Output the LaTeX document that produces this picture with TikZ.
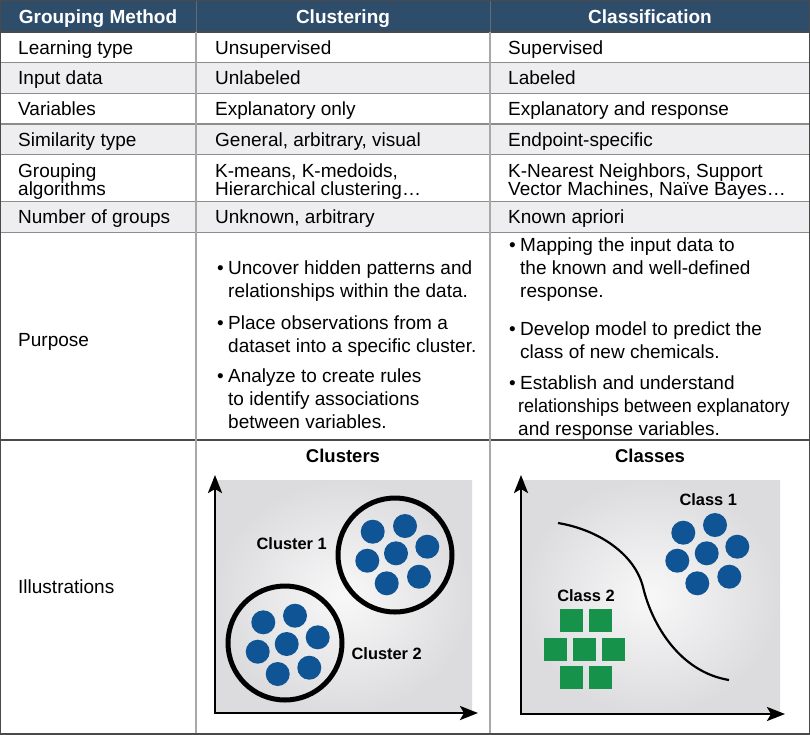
\documentclass[tikz,border=0pt]{standalone}
\usepackage{fontspec}
\setmainfont{Liberation Sans}
\usetikzlibrary{arrows.meta}
\definecolor{hdr}{HTML}{2D4D6B}
\definecolor{rowgray}{HTML}{EEEEF0}
\definecolor{dotblue}{HTML}{0F5495}
\definecolor{sqgreen}{HTML}{16924A}
\definecolor{gridline}{HTML}{8C8C8C}
\definecolor{vline}{HTML}{A8A8A8}
\definecolor{bord}{HTML}{4A4A4A}
\definecolor{bgIn}{HTML}{F8F8F9}
\definecolor{bgOut}{HTML}{DCDCDE}
\begin{document}
\begin{tikzpicture}[x=1pt,y=-1pt,
 txt/.style={anchor=base west, inner sep=0pt, font=\fontsize{19}{23}\selectfont, text=black},
 hd/.style={anchor=base, inner sep=0pt, font=\fontsize{19}{23}\selectfont\bfseries, text=white},
 lbl/.style={inner sep=0pt, font=\fontsize{16.4}{18}\selectfont\bfseries},
 ttl/.style={inner sep=0pt, font=\fontsize{18.5}{20}\selectfont\bfseries},
 dot/.style={circle, fill=dotblue, minimum size=24pt, inner sep=0pt},
 sq/.style={rectangle, fill=sqgreen, minimum size=23pt, inner sep=0pt},
 axis/.style={line width=2.6pt, line join=miter, {Stealth[length=18pt,width=14pt,inset=4pt]}-{Stealth[length=18pt,width=14pt,inset=4pt]}},
 ring/.style={circle, line width=5pt, draw=black, minimum size=114pt, inner sep=0pt},
 bg/.style={inner color=bgIn, outer color=bgOut},
]
\useasboundingbox (0,0) rectangle (810,734);
\fill[white] (0,0) rectangle (810,734);
% header
\fill[hdr] (0,0) rectangle (810,32);
% shaded rows
\fill[rowgray] (0,62.7) rectangle (810,93.4);
\fill[rowgray] (0,124.1) rectangle (810,154.8);
\fill[rowgray] (0,201.8) rectangle (810,232.5);
% grid lines
\foreach \yy in {62.7,93.4,124.1,154.8,201.8,232.5} \draw[gridline, line width=1.3pt] (0,\yy) -- (810,\yy);
\draw[bord, line width=2pt] (0,440) -- (810,440);
\draw[bord, line width=1.6pt] (0,32) -- (810,32);
\draw[vline, line width=1.2pt] (196,32) -- (196,734);
\draw[vline, line width=1.2pt] (490,32) -- (490,734);
\draw[gray!60!hdr, line width=1pt] (196,0) -- (196,32);
\draw[gray!60!hdr, line width=1pt] (490,0) -- (490,32);
\draw[bord, line width=2.4pt] (0,0) rectangle (810,734);

% header text
\node[hd] (h1) at (98,23) {Grouping Method};
\node[hd] (h2) at (343,23) {Clustering};
\node[hd] (h3) at (650,23) {Classification};

% rows
\node[txt] (a1) at (18,54.3) {Learning type};
\node[txt] (a2) at (215,54.3) {Unsupervised};
\node[txt] (a3) at (508,54.3) {Supervised};
\node[txt] (b1) at (18,84.8) {Input data};
\node[txt] (b2) at (215,84.8) {Unlabeled};
\node[txt] (b3) at (508,84.8) {Labeled};
\node[txt] (c1) at (18,115.8) {Variables};
\node[txt] (c2) at (215,115.8) {Explanatory only};
\node[txt] (c3) at (508,115.8) {Explanatory and response};
\node[txt] (d1) at (18,146.8) {Similarity type};
\node[txt] (d2) at (215,146.8) {General, arbitrary, visual};
\node[txt] (d3) at (508,146.8) {Endpoint-specific};
\node[txt] (e1) at (18,177.3) {Grouping};
\node[txt] (e1b) at (18,195.8) {algorithms};
\node[txt] (e2) at (215,177.3) {K-means, K-medoids,};
\node[txt] (e2b) at (215,195.8) {Hierarchical clustering…};
\node[txt] (e3) at (508,177.3) {K-Nearest Neighbors, Support};
\node[txt] (e3b) at (508,195.8) {Vector Machines, Naïve Bayes…};
\node[txt] (f1) at (18,223.8) {Number of groups};
\node[txt] (f2) at (215,223.8) {Unknown, arbitrary};
\node[txt] (f3) at (508,223.8) {Known apriori};
\node[txt] (g1) at (18,346.8) {Purpose};
\node[txt] (i1) at (18,593.8) {Illustrations};

% purpose - clustering
\node[txt] (p1) at (217,274) {\makebox[11pt][l]{•}Uncover hidden patterns and};
\node[txt] (p2) at (228,297) {relationships within the data.};
\node[txt] (p3) at (217,329) {\makebox[11pt][l]{•}Place observations from a};
\node[txt] (p4) at (228,352) {dataset into a specific cluster.};
\node[txt] (p5) at (217,382) {\makebox[11pt][l]{•}Analyze to create rules};
\node[txt] (p6) at (228,405) {to identify associations};
\node[txt] (p7) at (228,428) {between variables.};
% purpose - classification
\node[txt] (q1) at (509,251) {\makebox[11pt][l]{•}Mapping the input data to};
\node[txt] (q2) at (520,274) {the known and well-defined};
\node[txt] (q3) at (520,297) {response.};
\node[txt] (q4) at (509,335) {\makebox[11pt][l]{•}Develop model to predict the};
\node[txt] (q5) at (520,358) {class of new chemicals.};
\node[txt] (q6) at (509,389) {\makebox[11pt][l]{•}Establish and understand};
\node[txt] (q7) at (518,412) {\scalebox{0.945}[1]{relationships between explanatory}};
\node[txt] (q8) at (518,435) {and response variables.};

% ---------- Clusters illustration
\node[ttl] (t1) at (343,456) {Clusters};
\shade[bg] (215,480) rectangle (472,713);
\coordinate (o1) at (215,713);
\coordinate (y1) at (215,475);
\coordinate (x1) at (478,713);
\draw[axis] (y1) -- (o1) -- (x1);
\node[ring] (r1) at (395,555) {};
\node[ring] (r2) at (285,643) {};
\foreach \px/\py [count=\k] in {372.7/531.7, 405/526, 427.3/546.7, 396/553.3, 367.3/560.7, 386.7/583.3, 419/576.7}
  \node[dot] (u\k) at (\px,\py) {};
\foreach \px/\py [count=\k] in {263.3/622.3, 295/615.7, 317.7/637.3, 286.7/644, 257.7/651.7, 277.7/674, 309.3/667.7}
  \node[dot] (v\k) at (\px,\py) {};
\node[lbl] (l1) at (291.7,543.3) {Cluster 1};
\node[lbl] (l2) at (386.7,653.3) {Cluster 2};

% ---------- Classes illustration
\node[ttl] (t2) at (650,456) {Classes};
\shade[bg] (521,480) rectangle (780,714);
\coordinate (o2) at (521,714);
\coordinate (y2) at (521,475);
\coordinate (x2) at (785,714);
\draw[axis] (y2) -- (o2) -- (x2);
\coordinate (s0) at (558,523);
\coordinate (s1) at (643,587);
\coordinate (s2) at (729,680);
\draw[line width=2.2pt] (s0) .. controls (600,530) and (635,555) .. (s1) .. controls (652,625) and (680,672) .. (s2);
\foreach \px/\py [count=\k] in {683.3/532.7, 715/525, 737.3/546.7, 706.7/553.3, 677.3/560.7, 697.3/583.3, 729.3/576.7}
  \node[dot] (w\k) at (\px,\py) {};
\foreach \px/\py [count=\k] in {571/620.7, 600/620.7, 555.7/649, 584.3/649, 613.3/649, 571/677.3, 600/677.3}
  \node[sq] (z\k) at (\px,\py) {};
\node[lbl] (l3) at (708.3,500) {Class 1};
\node[lbl] (l4) at (586,595.7) {Class 2};
\end{tikzpicture}
\end{document}
